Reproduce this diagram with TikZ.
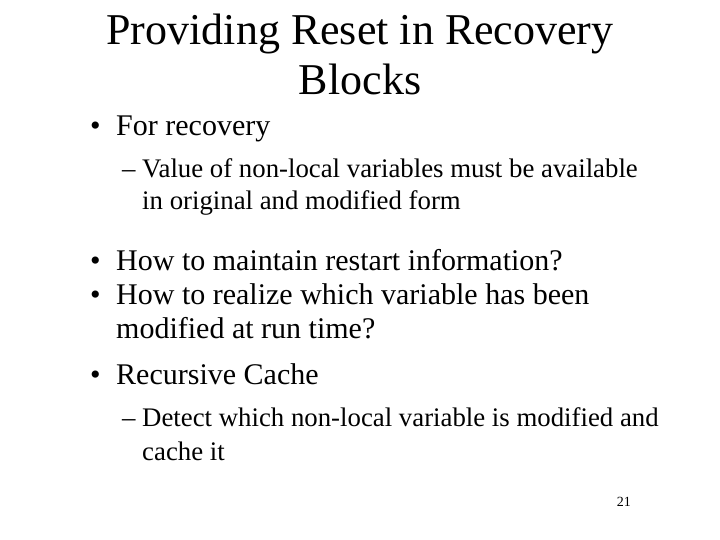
\documentclass[tikz,border=0pt]{standalone}
\usepackage{fontspec}
\setmainfont{Liberation Serif}
\begin{document}
\begin{tikzpicture}[x=1pt,y=1pt,
  title/.style={anchor=base,font=\fontsize{44}{44}\selectfont,inner sep=0},
  lvone/.style={anchor=base west,font=\fontsize{30}{30}\selectfont,inner sep=0},
  lvtwo/.style={anchor=base west,font=\fontsize{26.8}{27}\selectfont,inner sep=0}]
\useasboundingbox[fill=white] (0,0) rectangle (720,540);
\node[title] (t1) at (360,540-45) {Providing Reset in Recovery};
\node[title] (t2) at (360,540-95) {Blocks};
\node[lvone] (b1) at (90,540-136) {•};
\node[lvone] (b1t) at (116,540-136) {For recovery};
\node[lvtwo] (d1) at (122,540-178) {–};
\node[lvtwo] (d1t) at (142,540-178) {Value of non-local variables must be available};
\node[lvtwo] (d1u) at (142,540-210) {in original and modified form};
\node[lvone] (b2) at (90,540-271) {•};
\node[lvone] (b2t) at (116,540-271) {How to maintain restart information?};
\node[lvone] (b3) at (90,540-305) {•};
\node[lvone] (b3t) at (116,540-305) {How to realize which variable has been};
\node[lvone] (b3u) at (116,540-339) {modified at run time?};
\node[lvone] (b4) at (90,540-385) {•};
\node[lvone] (b4t) at (116,540-385) {Recursive Cache};
\node[lvtwo] (d2) at (122,540-427) {–};
\node[lvtwo] (d2t) at (142,540-427) {Detect which non-local variable is modified and};
\node[lvtwo] (d2u) at (142,540-461) {cache it};
\node[anchor=base east,font=\fontsize{14}{14}\selectfont,inner sep=0] (pg) at (631,540-507) {21};
\end{tikzpicture}
\end{document}
